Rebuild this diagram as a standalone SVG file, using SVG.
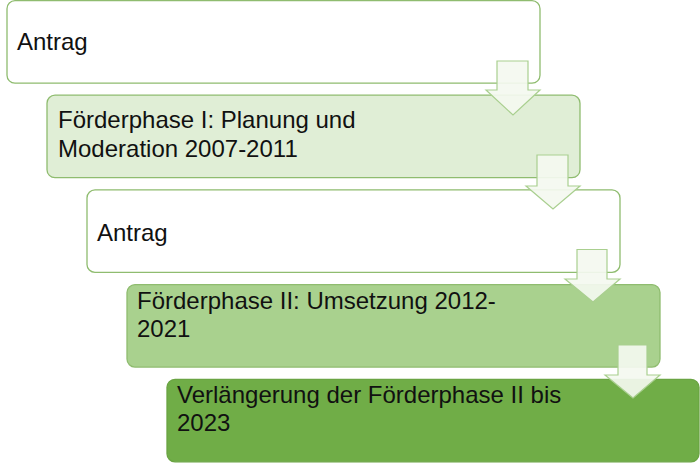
<svg xmlns="http://www.w3.org/2000/svg" width="700" height="467" viewBox="0 0 700 467">
<style>
.box{stroke-width:1.3}
.t{font-family:"Liberation Sans","Open Sans",Arial,sans-serif;font-size:24px;fill:#111}
.arr{fill:#f4f8f0;fill-opacity:0.92;stroke:#a9cf8f;stroke-width:1.2;stroke-linejoin:miter}
</style>
<rect width="700" height="467" fill="#ffffff"/>
<g id="node1">
<rect class="box" x="7" y="0.7" width="533" height="82.5" rx="8" fill="#ffffff" stroke="#8fbc6f"/>
<text class="t" x="17" y="50">Antrag</text>
</g>
<g id="node2">
<rect class="box" x="47" y="95.2" width="533" height="82.5" rx="8" fill="#e0eed6" stroke="#8fbc6f"/>
<text class="t" x="58" y="128">Förderphase I: Planung und</text>
<text class="t" x="58" y="157">Moderation 2007-2011</text>
</g>
<g id="node3">
<rect class="box" x="87" y="189.9" width="533" height="82.5" rx="8" fill="#ffffff" stroke="#8fbc6f"/>
<text class="t" x="97" y="241">Antrag</text>
</g>
<g id="node4">
<rect class="box" x="127" y="284.6" width="533" height="82.5" rx="8" fill="#a9d18e" stroke="#8fbc6f"/>
<text class="t" x="137" y="309">Förderphase II: Umsetzung 2012-</text>
<text class="t" x="137" y="337">2021</text>
</g>
<g id="node5">
<rect class="box" x="167" y="379.3" width="532" height="82.5" rx="8" fill="#70ad47" stroke="#6aa443"/>
<text class="t" x="177" y="403">Verlängerung der Förderphase II bis</text>
<text class="t" x="177" y="431">2023</text>
</g>
<g id="connectors">
<polygon class="arr" points="497,61 528,61 528,90 540,90 513,115 486,90 497,90"/>
<polygon class="arr" points="537,155 568,155 568,186 580,186 553,209 526,186 537,186"/>
<polygon class="arr" points="577,249.5 607,249.5 607,279 620,279 593,302 565,279 577,279"/>
<polygon class="arr" points="618,345 647,345 647,375 660,375 633,398 605,375 618,375"/>
</g>
</svg>
